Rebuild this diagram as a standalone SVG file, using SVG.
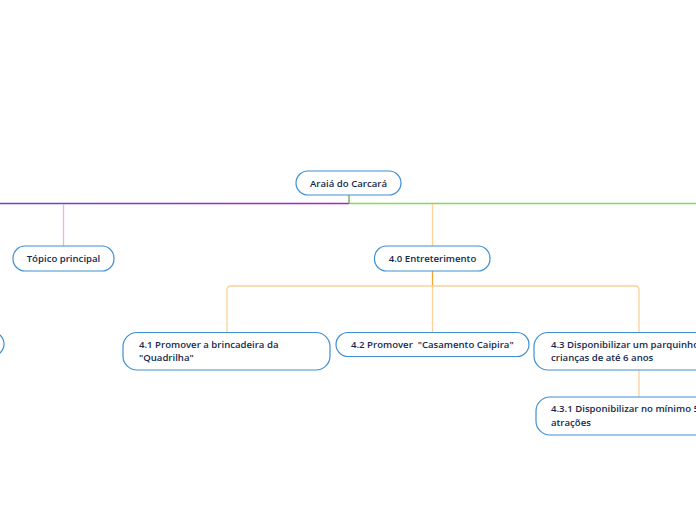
<svg xmlns="http://www.w3.org/2000/svg" width="696" height="520" viewBox="0 0 696 520">
<defs>
<linearGradient id="pg" gradientUnits="userSpaceOnUse" x1="0" y1="0" x2="349" y2="0">
<stop offset="0" stop-color="#6a3fe0"/>
<stop offset="1" stop-color="#b01fd2"/>
</linearGradient>
<style>
.box{fill:#ffffff;stroke:#3f8fd2;stroke-width:1.2}
.t{font-family:"Open Sans","Noto Sans",sans-serif;font-weight:600;fill:#16294d;font-size:9.6px;white-space:pre}
.c{fill:none;stroke-width:1.3}
</style>
</defs>
<rect width="696" height="520" fill="#ffffff"/>
<g id="connectors">
<path class="c" d="M0,203.5 H349" stroke="url(#pg)"/>
<path class="c" d="M349,203.5 H696" stroke="#80dc4c"/>
<path class="c" d="M349,195 V203.5" stroke="#6aaa3c"/>
<path class="c" d="M63.5,204 V246" stroke="#f7aaf0"/>
<path class="c" d="M432.5,204 V246" stroke="#fcd19a"/>
<path class="c" d="M432.5,271 V286" stroke="#f5a530"/>
<path class="c" d="M227,332 V290 Q227,286 231,286 H635 Q639,286 639,290 V332" stroke="#fcd19a"/>
<path class="c" d="M432.5,286 V332" stroke="#fcd19a"/>
<path class="c" d="M639,370 V397" stroke="#fcd19a"/>
</g>
<g id="root">
<rect class="box" x="296" y="171" width="105" height="24" rx="12"/>
<text class="t" x="348.5" y="187" text-anchor="middle" font-size="10.8">Araiá do Carcará</text>
</g>
<g id="topico">
<rect class="box" x="13" y="246" width="101" height="25" rx="12"/>
<text class="t" x="63.5" y="262" text-anchor="middle">Tópico principal</text>
</g>
<g id="n40">
<rect class="box" x="374.5" y="246" width="115.5" height="25" rx="12"/>
<text class="t" x="432.5" y="262" text-anchor="middle">4.0 Entreterimento</text>
</g>
<g id="nleft">
<rect class="box" x="-100" y="332" width="104" height="24" rx="12"/>
</g>
<g id="n41">
<rect class="box" x="123" y="332.5" width="207" height="37.5" rx="14"/>
<text class="t" x="139" y="347.5">4.1 Promover a brincadeira da</text>
<text class="t" x="139" y="361">"Quadrilha"</text>
</g>
<g id="n42">
<rect class="box" x="336" y="332.5" width="193" height="24" rx="12"/>
<text class="t" x="351" y="348" xml:space="preserve">4.2 Promover  "Casamento Caipira"</text>
</g>
<g id="n43">
<rect class="box" x="534" y="332.5" width="240" height="37.5" rx="14"/>
<text class="t" x="551" y="347.5">4.3 Disponibilizar um parquinho</text>
<text class="t" x="551" y="361">crianças de até 6 anos</text>
</g>
<g id="n431">
<rect class="box" x="536" y="397" width="240" height="38" rx="14"/>
<text class="t" x="551" y="412">4.3.1 Disponibilizar no mínimo 5</text>
<text class="t" x="551" y="425.5">atrações</text>
</g>
</svg>
